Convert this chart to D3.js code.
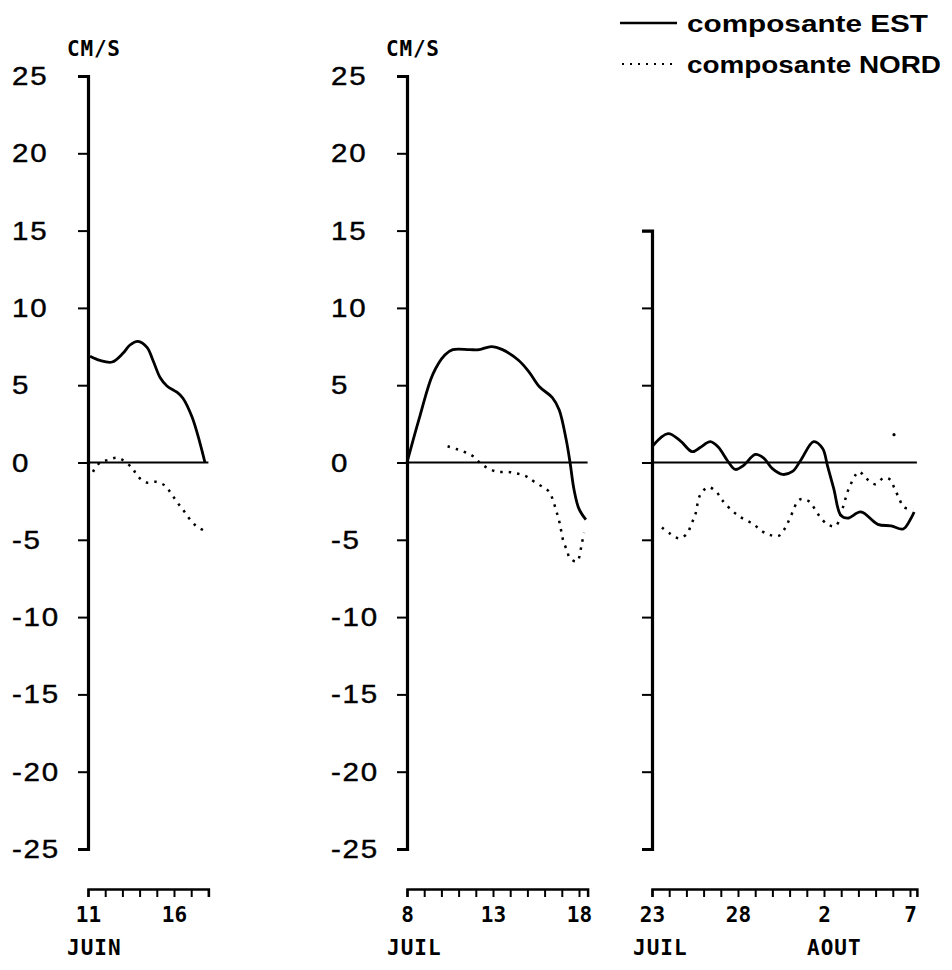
<!DOCTYPE html>
<html>
<head>
<meta charset="utf-8">
<script src="https://cdn.jsdelivr.net/npm/d3@7"></script>
<style>
  body { margin: 0; background: #fff; }
  svg { display: block; }
</style>
</head>
<body>
<svg id="chart" width="952" height="970"></svg>
<script>
// ---------------- DATA ----------------
// Y ticks (cm/s)
const yTicks = [25, 20, 15, 10, 5, 0, -5, -10, -15, -20, -25];
const yTicks3 = [15, 10, 5, 0, -5, -10, -15, -20, -25];

// Panel 1 : JUIN (day of month)
const p1EstDays = [11.12, 11.7, 12.4, 13.03, 13.44, 13.9, 14.43, 14.78, 15.19, 15.59, 16.17, 16.52, 17.05, 17.51, 17.8];
const p1EstVals = [6.87, 6.6, 6.5, 7.06, 7.6, 7.84, 7.45, 6.6, 5.5, 4.95, 4.55, 4.16, 2.94, 1.26, 0];
const p1NordDays = [11.29, 11.7, 12.16, 12.74, 13.56, 13.9, 14.43, 14.95, 15.48, 15.83, 16.17, 16.52, 16.87, 17.28, 17.74];
const p1NordVals = [-0.6, 0, 0.16, 0.3, -0.35, -0.9, -1.3, -1.25, -1.5, -2.0, -2.55, -3.05, -3.6, -4.1, -4.4];

// Panel 2 : JUIL
const p2EstDays = [8.0, 8.75, 9.5, 10.2, 10.66, 11.64, 12.2, 12.9, 13.55, 14.5, 15.1, 15.7, 16.45, 16.85, 17.25, 17.48, 17.71, 18.0, 18.4];
const p2EstVals = [0, 3.0, 5.7, 6.95, 7.3, 7.3, 7.3, 7.5, 7.3, 6.6, 5.85, 4.9, 4.2, 3.4, 1.5, 0, -1.75, -3.0, -3.7];
const p2NordDays = [10.36, 10.87, 11.35, 11.82, 12.22, 12.68, 13.26, 13.84, 14.36, 14.93, 15.4, 16.27, 16.5, 16.67, 16.84, 16.96, 17.07, 17.3, 17.48, 17.88, 18.17, 18.29];
const p2NordVals = [1.05, 0.87, 0.68, 0.42, 0, -0.35, -0.6, -0.6, -0.7, -0.9, -1.25, -1.9, -2.5, -3.1, -3.75, -4.4, -5.0, -5.7, -6.2, -6.4, -5.2, -4.55];

// Panel 3 : JUIL 23 -> AOUT 7 (days counted from July 1; 33 = 2 August)
const p3EstDays = [23.06, 23.93, 24.63, 25.34, 25.8, 26.39, 26.85, 27.38, 27.85, 28.31, 29.01, 29.48, 30.0, 30.59, 31.17, 31.64, 32.4, 32.92, 33.2, 33.57, 33.97, 34.38, 35.14, 36.13, 36.9, 37.6, 38.06, 38.24];
const p3EstVals = [1.1, 1.87, 1.42, 0.7, 0.97, 1.35, 1.0, 0.13, -0.45, -0.2, 0.52, 0.3, -0.4, -0.77, -0.58, 0.13, 1.35, 0.9, -0.2, -1.7, -3.4, -3.6, -3.2, -4.0, -4.1, -4.3, -3.6, -3.2];
const p3NordDays = [23.58, 24.05, 24.58, 25.04, 25.28, 25.51, 25.8, 26.27, 26.74, 27.09, 27.96, 28.9, 29.48, 29.89, 30.36, 30.76, 31.06, 31.58, 32.11, 32.69, 33.2, 33.68, 34.1, 34.44, 35.03, 35.43, 35.96, 36.48, 36.84, 37.07, 37.36, 37.65, 38.18];
const p3NordVals = [-4.2, -4.6, -4.9, -4.6, -4.0, -3.4, -2.1, -1.6, -1.9, -2.45, -3.4, -4.0, -4.5, -4.7, -4.75, -4.2, -3.5, -2.4, -2.5, -3.4, -4.0, -4.1, -2.9, -1.7, -0.6, -1.0, -1.4, -1.0, -1.1, -1.6, -2.3, -2.9, -3.0];
const p3StrayDays = [37.07];
const p3StrayVals = [1.8];

const legendLabels = ["composante EST", "composante NORD"];

// ---------------- LAYOUT ----------------
const svg = d3.select("#chart");
const pxPerDay = 17.2;
const yTop = 76, yBot = 849;
const xAxisY = 889;

const yScale = d3.scaleLinear().domain([-25, 25]).range([yBot, yTop]);
const yScale3 = d3.scaleLinear().domain([-25, 15]).range([yBot, yScale(15)]);

const panels = [
  { x0: 88, start: 11, end: 18, ticks: d3.range(11, 19), labels: [11, 16], months: [{ d: 11, t: "JUIN", dx: -21 }],
    est: [p1EstDays, p1EstVals], nord: [p1NordDays, p1NordVals], ys: yScale, yt: yTicks, showLabels: true },
  { x0: 407, start: 8, end: 18.5, ticks: d3.range(8, 19), labels: [8, 13, 18], months: [{ d: 8, t: "JUIL", dx: -20 }],
    est: [p2EstDays, p2EstVals], nord: [p2NordDays, p2NordVals], ys: yScale, yt: yTicks, showLabels: true },
  { x0: 652, start: 23, end: 38.4, ticks: d3.range(23, 39), labels: [23, 28, 33, 38], months: [{ d: 23, t: "JUIL", dx: -19 }, { d: 33, t: "AOUT", dx: -17 }],
    est: [p3EstDays, p3EstVals], nord: [p3NordDays, p3NordVals], ys: yScale3, yt: yTicks3, showLabels: false,
    stray: [p3StrayDays, p3StrayVals] }
];

const monoFont = "'DejaVu Sans Mono', 'Liberation Mono', monospace";

panels.forEach(p => {
  const x = d3.scaleLinear().domain([p.start, p.end]).range([p.x0, p.x0 + (p.end - p.start) * pxPerDay]);
  const g = svg.append("g");

  // Y axis
  const yAxis = d3.axisLeft(p.ys).tickValues(p.yt).tickSizeInner(10).tickSizeOuter(10).tickFormat("");
  const ya = g.append("g").attr("transform", `translate(${p.x0},0)`).call(yAxis);
  ya.select(".domain").attr("stroke", "#000").attr("stroke-width", 3.2);
  ya.selectAll(".tick line").attr("stroke", "#000").attr("stroke-width", 2);

  if (p.showLabels) {
    p.yt.forEach(v => {
      g.append("g")
        .attr("transform", `translate(${p.x0 - 76},${p.ys(v)}) scale(1.18,1)`)
        .append("text")
        .attr("dy", "0.36em")
        .attr("font-family", "'Liberation Sans', Arial, sans-serif")
        .attr("font-size", 25)
        .attr("letter-spacing", 1.5)
        .attr("fill", "#000")
        .attr("stroke", "#000").attr("stroke-width", 0.4)
        .text(v < 0 ? "-" + Math.abs(v) : String(v));
    });
    g.append("text")
      .attr("x", p.x0 - 21).attr("y", 56)
      .attr("font-family", monoFont).attr("font-weight", "bold")
      .attr("font-size", 21).attr("letter-spacing", 0.8).attr("fill", "#000")
      .text("CM/S");
  }

  // X axis
  const xAxis = d3.axisBottom(x).tickValues(p.ticks).tickSizeInner(8).tickSizeOuter(8)
    .tickPadding(10)
    .tickFormat(d => p.labels.includes(d) ? String(d > 31 ? d - 31 : d) : "");
  const xa = g.append("g").attr("transform", `translate(0,${xAxisY})`).call(xAxis);
  xa.select(".domain").attr("stroke", "#000").attr("stroke-width", 2.5);
  xa.selectAll(".tick line").attr("stroke", "#000").attr("stroke-width", 2);
  xa.selectAll(".tick text").attr("font-family", monoFont).attr("font-weight", "bold")
    .attr("font-size", 21).attr("fill", "#000");

  p.months.forEach(m => {
    g.append("text")
      .attr("x", x(m.d) + m.dx).attr("y", 955)
      .attr("font-family", monoFont).attr("font-weight", "bold")
      .attr("font-size", 21).attr("letter-spacing", 1).attr("fill", "#000")
      .text(m.t);
  });

  // zero line
  g.append("line")
    .attr("x1", p.x0).attr("x2", x(p.end))
    .attr("y1", p.ys(0)).attr("y2", p.ys(0))
    .attr("stroke", "#000").attr("stroke-width", 2);

  const line = d3.line().x(d => x(d[0])).y(d => p.ys(d[1])).curve(d3.curveCatmullRom.alpha(0.5));

  const estData = p.est[0].map((d, i) => [d, p.est[1][i]]);
  const nordData = p.nord[0].map((d, i) => [d, p.nord[1][i]]);

  g.append("path").datum(estData).attr("d", line)
    .attr("fill", "none").attr("stroke", "#000").attr("stroke-width", 2.8);

  g.append("path").datum(nordData).attr("d", line)
    .attr("fill", "none").attr("stroke", "#000").attr("stroke-width", 2.5)
    .attr("stroke-dasharray", "2.5,6").attr("stroke-linecap", "butt");

  if (p.stray) {
    p.stray[0].forEach((d, i) => {
      g.append("circle").attr("cx", x(d)).attr("cy", p.ys(p.stray[1][i])).attr("r", 1.6).attr("fill", "#000");
    });
  }
});

// ---------------- LEGEND ----------------
const leg = svg.append("g");
leg.append("line").attr("x1", 620).attr("x2", 677).attr("y1", 23).attr("y2", 23)
  .attr("stroke", "#000").attr("stroke-width", 2.6);
leg.append("line").attr("x1", 622).attr("x2", 672).attr("y1", 64).attr("y2", 64)
  .attr("stroke", "#000").attr("stroke-width", 2).attr("stroke-dasharray", "2,6");
leg.append("text").attr("x", 687).attr("y", 32)
  .attr("font-family", "'Liberation Sans', Arial, sans-serif").attr("font-weight", "bold")
  .attr("font-size", 23).attr("textLength", 241).attr("lengthAdjust", "spacingAndGlyphs")
  .text(legendLabels[0]);
leg.append("text").attr("x", 687).attr("y", 73)
  .attr("font-family", "'Liberation Sans', Arial, sans-serif").attr("font-weight", "bold")
  .attr("font-size", 23).attr("textLength", 254).attr("lengthAdjust", "spacingAndGlyphs")
  .text(legendLabels[1]);
</script>
</body>
</html>
